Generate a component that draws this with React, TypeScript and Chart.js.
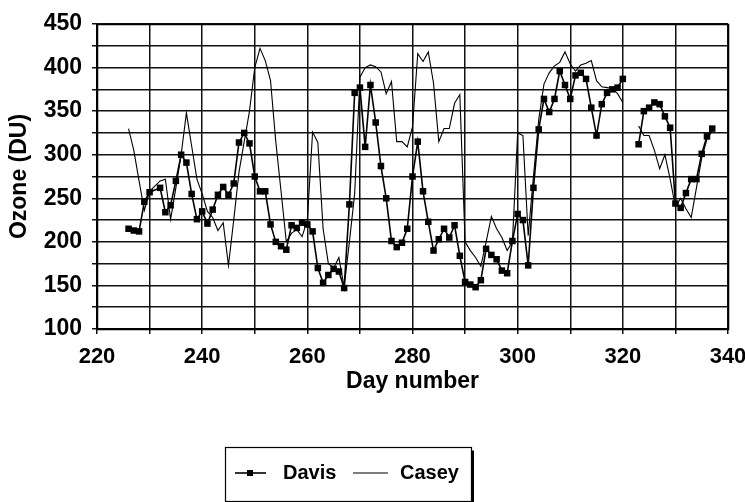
import { useEffect, useRef } from 'react';
import { Chart, registerables } from 'chart.js';

Chart.register(...registerables);

const FONT = "'Liberation Sans', Arial, sans-serif";

const davisDays = [
  226, 227, 228, 229, 230, 232, 233, 234, 235, 236, 237, 238, 239, 240, 241, 242, 243, 244, 245, 246,
  247, 248, 249, 250, 251, 252, 253, 254, 255, 256, 257, 258, 259, 260, 261, 262, 263, 264, 265, 266,
  267, 268, 269, 270, 271, 272, 273, 274, 275, 276, 277, 278, 279, 280, 281, 282, 283, 284, 285, 286,
  287, 288, 289, 290, 291, 292, 293, 294, 295, 296, 297, 298, 299, 300, 301, 302, 303, 304, 305, 306,
  307, 308, 309, 310, 311, 312, 313, 314, 315, 316, 317, 318, 319, 320, 321, 322, 323, 324, 325, 326,
  327, 328, 329, 330, 331, 332, 333, 334, 335, 336, 337,
];
const davisOzone: (number | null)[] = [
  215, 213, 212, 246, 257, 262, 234, 242, 270, 300, 291, 255, 226, 235, 221, 237, 254, 263, 254, 267,
  314, 325, 313, 275, 258, 258, 220, 200, 195, 191, 219, 216, 222, 220, 212, 170, 153, 162, 169, 166,
  147, 243, 371, 377, 309, 380, 337, 287, 250, 201, 194, 199, 215, 275, 315, 258, 223, 190, 203, 215,
  205, 219, 184, 154, 151, 148, 156, 192, 185, 180, 167, 164, 201, 232, 225, 173, 262, 329, 364, 349,
  364, 396, 380, 364, 391, 394, 387, 354, 322, 358, 371, 375, 377, 387, null, null, 312, 350, 354, 360,
  358, 344, 331, 244, 239, 256, 272, 272, 301, 321, 330,
];

const caseyDays = [
  226, 227, 228, 229, 230, 231, 232, 233, 234, 235, 236, 237, 238, 239, 240, 241, 242, 243, 244, 245,
  246, 247, 248, 249, 250, 251, 252, 253, 254, 255, 256, 257, 258, 259, 260, 261, 262, 263, 264, 265,
  266, 267, 268, 269, 270, 271, 272, 273, 274, 275, 276, 277, 278, 279, 280, 281, 282, 283, 284, 285,
  286, 287, 288, 289, 290, 291, 292, 293, 294, 295, 296, 297, 298, 299, 300, 301, 302, 303, 304, 305,
  306, 307, 308, 309, 310, 311, 312, 313, 314, 315, 316, 317, 318, 319, 320, 321, 322, 323, 324, 325,
  326, 327, 328, 329, 330, 331, 332, 333, 334, 335, 336, 337,
];
const caseyOzone: (number | null)[] = [
  330, 305, 270, 236, 258, 264, 270, 272, 226, 262, 300, 348, 310, 272, 255, 235, 228, 213, 222, 173,
  225, 280, 315, 350, 400, 422, 408, 385, 315, 258, 200, 210, 214, 206, 225, 326, 314, 215, 175, 170,
  182, 148, 200, 255, 389, 400, 403, 401, 395, 370, 384, 315, 315, 309, 332, 416, 407, 418, 382, 315,
  330, 330, 359, 369, 200, 190, 182, 172, 200, 229, 215, 205, 190, 200, 325, 322, 207, 275, 340, 381,
  394, 402, 406, 418, 404, 396, 403, 405, 408, 385, 378, 377, 376, 370, 360, null, null, 333, 322, 322,
  305, 284, 300, 272, 240, 250, 238, 228, 262, 296, 318, 327,
];

const xMin = 220;
const xMax = 340;
const yMin = 100;
const yMax = 450;
const xStep = 10;
const yStep = 25;
const seriesNames = ['Davis', 'Casey'];
const axisTitles = { x: 'Day number', y: 'Ozone (DU)' };

const framePlugin = {
  id: 'frameAndLegend',
  afterDraw(chart: any) {
    const ctx = chart.ctx;
    const a = chart.chartArea;
    ctx.save();
    ctx.strokeStyle = '#000';
    ctx.lineWidth = 1.5;
    ctx.strokeRect(Math.round(a.left) + 0.5, Math.round(a.top) + 0.5, Math.round(a.right - a.left), Math.round(a.bottom - a.top));
    const bx = 225.5, by = 447.5, bw = 246, bh = 54;
    ctx.lineWidth = 1.2;
    ctx.strokeRect(bx, by, bw, bh);
    ctx.fillStyle = '#000';
    ctx.fillRect(bx + bw - 0.5, by + 3, 3, bh);
    const cy = 473;
    const ds = chart.data.datasets;
    ctx.strokeStyle = ds[0].borderColor;
    ctx.lineWidth = ds[0].borderWidth;
    ctx.beginPath();
    ctx.moveTo(235, cy);
    ctx.lineTo(266, cy);
    ctx.stroke();
    ctx.fillRect(247, cy - 3, 6, 6);
    ctx.strokeStyle = ds[1].borderColor;
    ctx.lineWidth = ds[1].borderWidth;
    ctx.beginPath();
    ctx.moveTo(353, cy);
    ctx.lineTo(388, cy);
    ctx.stroke();
    ctx.fillStyle = '#000';
    ctx.font = `bold 20px ${FONT}`;
    ctx.textBaseline = 'middle';
    ctx.textAlign = 'left';
    ctx.fillText(seriesNames[0], 283, cy);
    ctx.fillText(seriesNames[1], 400, cy);
    ctx.restore();
  },
};

export default function App() {
  const ref = useRef<HTMLCanvasElement | null>(null);
  useEffect(() => {
    if (!ref.current) return;
    const chart = new Chart(ref.current, {
      type: 'line',
      data: {
        datasets: [
          {
            label: seriesNames[0],
            data: davisDays.map((d, i) => ({ x: d, y: davisOzone[i] })),
            borderColor: '#000',
            backgroundColor: '#000',
            borderWidth: 1.6,
            pointStyle: 'rect',
            pointRadius: 4.6,
            pointBorderWidth: 0,
            pointBackgroundColor: '#000',
            spanGaps: false,
            tension: 0,
            fill: false,
          },
          {
            label: seriesNames[1],
            data: caseyDays.map((d, i) => ({ x: d, y: caseyOzone[i] })),
            borderColor: '#000',
            backgroundColor: '#000',
            borderWidth: 1.1,
            pointRadius: 0,
            spanGaps: false,
            tension: 0,
            fill: false,
          },
        ],
      } as any,
      options: {
        animation: false,
        responsive: false,
        devicePixelRatio: 1,
        layout: { padding: { left: 0, right: 17, top: 24, bottom: 103 } },
        plugins: { legend: { display: false }, tooltip: { enabled: false } },
        scales: {
          x: {
            type: 'linear',
            min: xMin,
            max: xMax,
            afterFit: (s: any) => {
              s.height = 70;
              s.paddingLeft = 0;
              s.paddingRight = 0;
            },
            ticks: {
              stepSize: xStep,
              autoSkip: false,
              maxRotation: 0,
              padding: 10,
              color: '#000',
              font: { family: FONT, size: 22, weight: 'bold' },
              callback: (v: any) => (Number(v) % 20 === 0 ? String(v) : ''),
            },
            grid: { display: true, color: '#111', lineWidth: 1.5, tickLength: 5, drawOnChartArea: true, drawTicks: true },
            border: { color: '#000', width: 1.5 },
            title: {
              display: true,
              text: axisTitles.x,
              color: '#000',
              font: { family: FONT, size: 23, weight: 'bold' },
              padding: { top: 0, bottom: 4 },
            },
          },
          y: {
            type: 'linear',
            min: yMin,
            max: yMax,
            afterFit: (s: any) => {
              s.width = 97;
              s.paddingTop = 0;
              s.paddingBottom = 0;
            },
            ticks: {
              stepSize: yStep,
              autoSkip: false,
              padding: 10,
              color: '#000',
              font: { family: FONT, size: 23, weight: 'bold' },
              callback: (v: any) => (Number(v) % 50 === 0 ? String(v) : ''),
            },
            grid: { display: true, color: '#111', lineWidth: 1.5, tickLength: 5, drawOnChartArea: true, drawTicks: true },
            border: { color: '#000', width: 1.5 },
            title: {
              display: true,
              text: axisTitles.y,
              color: '#000',
              font: { family: FONT, size: 23, weight: 'bold' },
              padding: { top: 6, bottom: 0 },
            },
          },
        },
      } as any,
      plugins: [framePlugin],
    });
    return () => chart.destroy();
  }, []);
  return (
    <div style={{ position: 'absolute', left: 0, top: 0, width: 745, height: 502, background: '#fff' }}>
      <canvas ref={ref} width={745} height={502} style={{ width: 745, height: 502, display: 'block' }} />
    </div>
  );
}
